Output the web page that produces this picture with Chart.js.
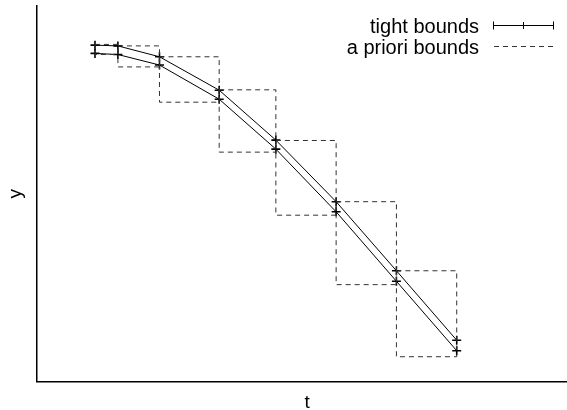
<!DOCTYPE html>
<html>
<head>
<meta charset="utf-8">
<script src="https://cdn.jsdelivr.net/npm/chart.js@4"></script>
<style>
  html, body { margin: 0; padding: 0; background: #fff; overflow: hidden; }
  canvas { display: block; }
</style>
</head>
<body>
<canvas id="boundsChart" width="584" height="410"></canvas>
<script>
// time grid
const tValues = [1, 1.38, 2.07, 3.06, 4, 5, 6, 7];
// tight bounds (upper / lower enclosure)
const upperBound = [8.96, 8.94, 8.65, 7.76, 6.43, 4.79, 2.95, 1.10];
const lowerBound = [8.74, 8.71, 8.43, 7.52, 6.19, 4.52, 2.67, 0.82];
// a priori bounds, one box per step [t_i, t_i+1]
const boxTop = [8.98, 8.94, 8.65, 7.77, 6.42, 4.79, 2.95];
const boxBottom = [8.71, 8.38, 7.44, 6.11, 4.43, 2.58, 0.66];

const FONT = "'Liberation Sans', Arial, sans-serif";

document.addEventListener("DOMContentLoaded", function () {

    const ctx = document.getElementById("boundsChart");

    const boxSets = boxTop.map(function (top, i) {
        const t0 = tValues[i], t1 = tValues[i + 1], bot = boxBottom[i];
        return {
            label: "a priori bounds",
            data: [
                { x: t0, y: top }, { x: t1, y: top }, { x: t1, y: bot },
                { x: t0, y: bot }, { x: t0, y: top }
            ],
            showLine: true,
            borderColor: "#333",
            borderWidth: 1,
            borderDash: [5, 4],
            pointRadius: 0,
            fill: false
        };
    });

    function boundSet(values) {
        return {
            label: "tight bounds",
            data: tValues.map(function (t, i) { return { x: t, y: values[i] }; }),
            showLine: true,
            borderColor: "#000",
            borderWidth: 1,
            pointStyle: "cross",
            pointRadius: 4.5,
            pointBorderWidth: 1.6,
            pointBorderColor: "#000",
            fill: false
        };
    }

    // gnuplot style key in the top right corner
    const keyPlugin = {
        id: "gnuKey",
        afterDraw: function (chart) {
            const c = chart.ctx;
            c.save();
            c.font = "20px " + FONT;
            c.fillStyle = "#000";
            c.textAlign = "right";
            c.textBaseline = "alphabetic";
            c.fillText("tight bounds", 479, 33);
            c.fillText("a priori bounds", 479, 53.5);

            c.strokeStyle = "#000";
            c.lineWidth = 1;
            c.beginPath();
            c.moveTo(493, 25.5); c.lineTo(554, 25.5);
            c.moveTo(493.5, 21.5); c.lineTo(493.5, 29.5);
            c.moveTo(553.5, 21.5); c.lineTo(553.5, 29.5);
            c.moveTo(523.5, 22); c.lineTo(523.5, 29);
            c.stroke();

            c.strokeStyle = "#333";
            c.setLineDash([5, 4]);
            c.beginPath();
            c.moveTo(494, 46.5); c.lineTo(554, 46.5);
            c.stroke();
            c.restore();
        }
    };

    new Chart(ctx, {
        type: "scatter",
        data: {
            datasets: boxSets.concat([boundSet(upperBound), boundSet(lowerBound)])
        },
        options: {
            responsive: false,
            animation: false,
            devicePixelRatio: 1,
            layout: { padding: { top: 4, right: 0, bottom: 0, left: 0 } },
            plugins: {
                legend: { display: false },
                tooltip: { enabled: false }
            },
            scales: {
                x: {
                    type: "linear",
                    min: 0.03,
                    max: 9.01,
                    grid: { display: false, drawTicks: false },
                    ticks: { display: false },
                    border: { display: true, color: "#000", width: 1.5 },
                    title: {
                        display: true,
                        text: "t",
                        color: "#000",
                        font: { family: FONT, size: 19, lineHeight: 0.8 },
                        padding: { top: 13.3, bottom: 0 }
                    }
                },
                y: {
                    type: "linear",
                    min: 0,
                    max: 10,
                    grid: { display: false, drawTicks: false },
                    ticks: { display: false },
                    border: { display: true, color: "#000", width: 1.5 },
                    title: {
                        display: true,
                        text: "y",
                        color: "#000",
                        font: { family: FONT, size: 19, lineHeight: 0.8 },
                        padding: { top: 8.4, bottom: 12.9 }
                    }
                }
            }
        },
        plugins: [keyPlugin]
    });

});
</script>
</body>
</html>
